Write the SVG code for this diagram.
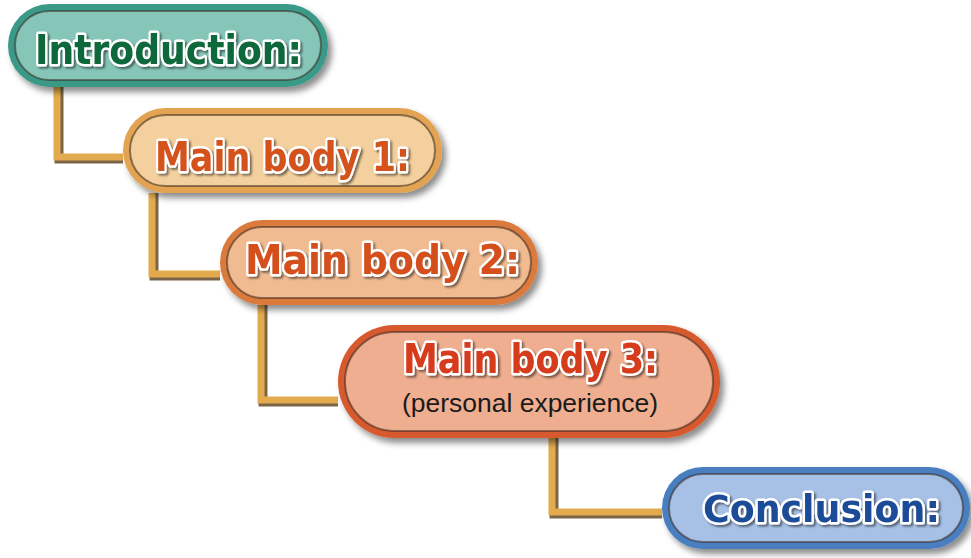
<svg xmlns="http://www.w3.org/2000/svg" width="971" height="558" viewBox="0 0 971 558">
<style>
.sh{fill:none;stroke:#5a3f1c;stroke-width:9;stroke-linejoin:miter;opacity:.8}
.cn{fill:none;stroke:#e3ab4d;stroke-width:7;stroke-linejoin:miter}
.t{font-family:"DejaVu Sans","Liberation Sans",sans-serif;font-weight:bold;stroke:#fff;stroke-width:5;paint-order:stroke;stroke-linejoin:round}
.sub{font-family:"Liberation Sans",Arial,sans-serif;font-size:25px;fill:#1a1a1a}
.inner{fill:none;stroke:#3a2a20;stroke-width:2;opacity:.55}
</style>
<defs>
<filter id="ds" x="-10%" y="-20%" width="125%" height="150%">
<feDropShadow dx="4" dy="5" stdDeviation="3" flood-color="#000" flood-opacity="0.45"/>
</filter>
<filter id="ts" x="-5%" y="-20%" width="112%" height="150%">
<feDropShadow dx="2" dy="2" stdDeviation="1.2" flood-color="#000" flood-opacity="0.5"/>
</filter>
</defs>
<rect width="971" height="558" fill="#fff"/>
<g id="connectors">
<path class="sh" d="M59,87 V159 H123"/>
<path class="cn" d="M57,87 V157 H123"/>
<path class="sh" d="M154,193 V276 H220"/>
<path class="cn" d="M152,193 V274 H220"/>
<path class="sh" d="M263,305 V402 H338"/>
<path class="cn" d="M261,305 V400 H338"/>
<path class="sh" d="M554,438 V514 H662"/>
<path class="cn" d="M552,438 V512 H662"/>
</g>
<g id="introduction">
<rect x="8" y="4" width="320" height="83" rx="41.5" fill="#3a9a87" filter="url(#ds)"/>
<rect x="15" y="11" width="306" height="69" rx="34.5" fill="#86c6b8"/>
<rect x="15" y="11" width="306" height="69" rx="34.5" class="inner"/>
<text class="t" x="35" y="64" font-size="41" fill="#11673a" textLength="267" lengthAdjust="spacingAndGlyphs" filter="url(#ts)">Introduction:</text>
</g>
<g id="main-body-1">
<rect x="123" y="108" width="319" height="85" rx="42.5" fill="#e2a452" filter="url(#ds)"/>
<rect x="130" y="115" width="305" height="71" rx="35.5" fill="#f3d09e"/>
<rect x="130" y="115" width="305" height="71" rx="35.5" class="inner"/>
<text class="t" x="155" y="171" font-size="41" fill="#d4521e" textLength="255" lengthAdjust="spacingAndGlyphs" filter="url(#ts)">Main body 1:</text>
</g>
<g id="main-body-2">
<rect x="220" y="220" width="318" height="85" rx="42.5" fill="#da7a3c" filter="url(#ds)"/>
<rect x="227" y="227" width="304" height="71" rx="35.5" fill="#f1bb91"/>
<rect x="227" y="227" width="304" height="71" rx="35.5" class="inner"/>
<text class="t" x="245" y="274" font-size="41" fill="#d4501e" textLength="275" lengthAdjust="spacingAndGlyphs" filter="url(#ts)">Main body 2:</text>
</g>
<g id="main-body-3">
<rect x="338" y="325" width="382" height="113" rx="56.5" fill="#d65a2e" filter="url(#ds)"/>
<rect x="345" y="332" width="368" height="99" rx="49.5" fill="#efae8f"/>
<rect x="345" y="332" width="368" height="99" rx="49.5" class="inner"/>
<text class="t" x="403" y="373" font-size="41" fill="#d63a1c" textLength="255" lengthAdjust="spacingAndGlyphs" filter="url(#ts)">Main body 3:</text>
<text class="sub" x="402" y="412" textLength="256" lengthAdjust="spacingAndGlyphs">(personal experience)</text>
</g>
<g id="conclusion">
<rect x="662" y="467" width="308" height="82" rx="41" fill="#4a7ec0" filter="url(#ds)"/>
<rect x="669" y="474" width="294" height="68" rx="34" fill="#a7c1e6"/>
<rect x="669" y="474" width="294" height="68" rx="34" class="inner"/>
<text class="t" x="703" y="522" font-size="37" fill="#1d4c98" textLength="237" lengthAdjust="spacingAndGlyphs" filter="url(#ts)">Conclusion:</text>
</g>
</svg>
